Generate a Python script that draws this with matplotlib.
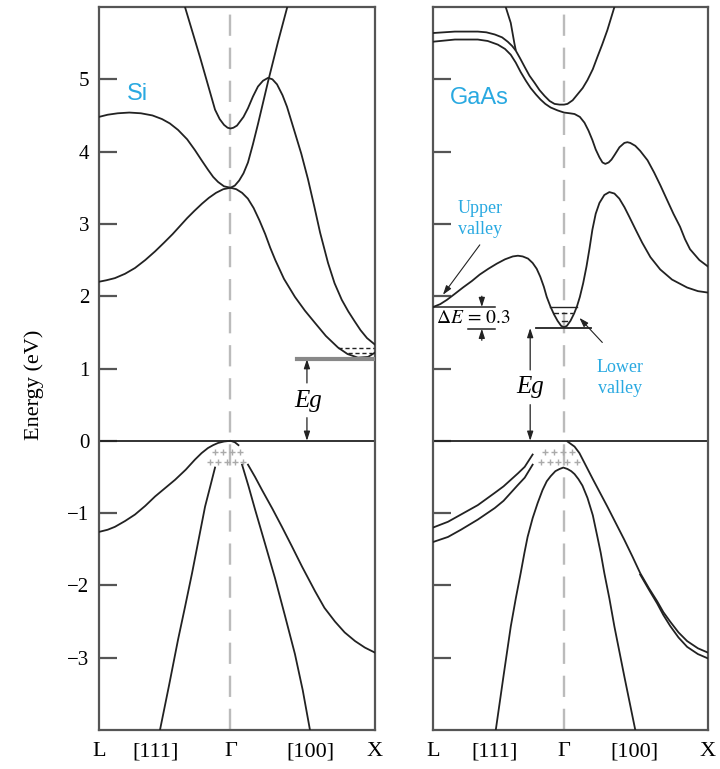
import numpy as np
import matplotlib.pyplot as plt

plt.rcParams['font.family'] = ['Liberation Serif', 'DejaVu Serif']
plt.rcParams['mathtext.fontset'] = 'stix'

# wave vector axis: L = -0.91, Gamma = 0, X = 1
sym_labels = ['L', '[111]', 'Γ', '[100]', 'X']
si_sym_k = [-0.91, -0.516, 0.0, 0.55, 1.0]
gaas_sym_k = [-0.91, -0.481, 0.0, 0.488, 1.0]
energy_ticks = [-3, -2, -1, 0, 1, 2, 3, 4, 5]

# --- Si bands (k, eV) ---
si_cb1_k = [-0.91, -0.86, -0.80, -0.73, -0.661, -0.59, -0.522, -0.46, -0.40, -0.35, -0.30, -0.25, -0.197, -0.15, -0.10, -0.05, 0.0,
            0.04, 0.08, 0.12, 0.16, 0.20, 0.24, 0.275, 0.31, 0.37, 0.446, 0.515, 0.585, 0.66, 0.744, 0.81, 0.882, 0.952, 1.0]
si_cb1_e = [2.20, 2.22, 2.25, 2.31, 2.39, 2.50, 2.62, 2.74, 2.86, 2.97, 3.08, 3.18, 3.28, 3.36, 3.43, 3.48, 3.50,
            3.48, 3.43, 3.35, 3.22, 3.05, 2.86, 2.67, 2.50, 2.24, 1.99, 1.80, 1.63, 1.45, 1.29, 1.20, 1.15, 1.16, 1.22]
si_cb2_k = [-0.91, -0.85, -0.78, -0.70, -0.62, -0.54, -0.474, -0.42, -0.363, -0.30, -0.246, -0.20, -0.156, -0.12, -0.086, -0.045, 0.0,
            0.03, 0.06, 0.09, 0.121, 0.155, 0.19, 0.26, 0.329, 0.393]
si_cb2_e = [4.48, 4.51, 4.53, 4.54, 4.53, 4.50, 4.45, 4.39, 4.30, 4.17, 4.02, 3.88, 3.75, 3.65, 3.58, 3.52, 3.50,
            3.53, 3.60, 3.70, 3.85, 4.10, 4.38, 4.97, 5.52, 6.00]
si_cb3_k = [-0.315, -0.21, -0.107, -0.075, -0.045, -0.02, 0.0, 0.02, 0.045, 0.09, 0.121, 0.155, 0.19, 0.225, 0.26, 0.29, 0.322, 0.36,
            0.391, 0.446, 0.49, 0.536, 0.58, 0.62, 0.675, 0.72, 0.77, 0.815, 0.86, 0.90, 0.945, 1.0]
si_cb3_e = [6.00, 5.30, 4.58, 4.45, 4.37, 4.33, 4.32, 4.33, 4.36, 4.48, 4.60, 4.76, 4.90, 4.98, 5.02, 5.00, 4.93, 4.78,
            4.62, 4.26, 3.97, 3.62, 3.24, 2.88, 2.46, 2.18, 1.95, 1.79, 1.65, 1.53, 1.42, 1.33]
si_vb1a_k = [-0.91, -0.85, -0.80, -0.73, -0.661, -0.59, -0.522, -0.45, -0.384, -0.31, -0.246, -0.20, -0.156, -0.12, -0.086, -0.045, 0.0, 0.03, 0.055]
si_vb1a_e = [-1.26, -1.23, -1.19, -1.11, -1.02, -0.90, -0.77, -0.65, -0.54, -0.40, -0.26, -0.17, -0.10, -0.06, -0.03, -0.01, 0.0, -0.02, -0.06]
si_vb1b_k = [0.121, 0.17, 0.218, 0.29, 0.356, 0.425, 0.495, 0.585, 0.65, 0.723, 0.79, 0.862, 0.93, 1.0]
si_vb1b_e = [-0.33, -0.50, -0.68, -0.94, -1.19, -1.46, -1.74, -2.08, -2.31, -2.50, -2.65, -2.77, -2.86, -2.93]
si_vb2_k = [-0.107, -0.14, -0.176, -0.22, -0.266, -0.315, -0.363, -0.425, -0.488]
si_vb2_e = [-0.37, -0.63, -0.91, -1.36, -1.83, -2.30, -2.75, -3.38, -4.0]
si_vb3_k = [0.08, 0.125, 0.17, 0.24, 0.308, 0.377, 0.446, 0.50, 0.55]
si_vb3_e = [-0.33, -0.63, -0.95, -1.43, -1.90, -2.42, -2.95, -3.45, -4.0]
si_gap = 1.13
si_valley_e = [1.29, 1.22]
si_valley_k = [(0.744, 0.99), (0.813, 0.98)]
si_holes_k = [-0.107, -0.052, 0.010, 0.066, -0.142, -0.086, -0.024, 0.031, 0.087]
si_holes_e = [-0.15] * 4 + [-0.29] * 5

# --- GaAs bands (k, eV) ---
gaas_cb1_k = [-0.91, -0.86, -0.813, -0.76, -0.702, -0.64, -0.585, -0.525, -0.467, -0.41, -0.356, -0.32, -0.287, -0.25, -0.218, -0.19,
              -0.165, -0.14, -0.12, -0.095, -0.07, -0.045, -0.02, 0.0, 0.02, 0.045, 0.07, 0.09, 0.11, 0.133, 0.156, 0.177, 0.197,
              0.22, 0.246, 0.28, 0.315, 0.35, 0.384, 0.42, 0.453, 0.50, 0.543, 0.60, 0.668, 0.75, 0.855, 0.93, 1.0]
gaas_cb1_e = [1.85, 1.89, 1.95, 2.03, 2.12, 2.21, 2.30, 2.38, 2.45, 2.51, 2.55, 2.56, 2.55, 2.52, 2.46, 2.38,
              2.27, 2.13, 1.99, 1.86, 1.75, 1.66, 1.59, 1.57, 1.59, 1.66, 1.76, 1.86, 1.99, 2.18, 2.41, 2.66, 2.92,
              3.14, 3.29, 3.40, 3.44, 3.42, 3.35, 3.23, 3.10, 2.91, 2.74, 2.54, 2.37, 2.23, 2.12, 2.07, 2.05]
gaas_cb2_k = [-0.91, -0.758, -0.599, -0.53, -0.46, -0.41, -0.37, -0.335, -0.301, -0.265, -0.232, -0.195, -0.163, -0.13, -0.093,
              -0.045, 0.0, 0.04, 0.073, 0.11, 0.142, 0.17, 0.197, 0.22, 0.246, 0.267, 0.287, 0.31, 0.33, 0.35, 0.385, 0.419,
              0.44, 0.46, 0.495, 0.529, 0.58, 0.626, 0.67, 0.716, 0.76, 0.806, 0.84, 0.875, 0.94, 1.0]
gaas_cb2_e = [5.52, 5.55, 5.55, 5.53, 5.48, 5.42, 5.34, 5.23, 5.10, 4.98, 4.88, 4.79, 4.72, 4.66, 4.61,
              4.57, 4.54, 4.53, 4.52, 4.48, 4.40, 4.29, 4.16, 4.03, 3.92, 3.85, 3.83, 3.85, 3.89, 3.95, 4.06, 4.12,
              4.13, 4.12, 4.08, 4.01, 3.88, 3.71, 3.53, 3.33, 3.14, 2.96, 2.79, 2.65, 2.50, 2.41]
gaas_cb3_k = [-0.91, -0.758, -0.599, -0.54, -0.481, -0.43, -0.391, -0.36, -0.336, -0.305, -0.273, -0.24, -0.204, -0.17, -0.135,
              -0.10, -0.066, -0.031, 0.0, 0.024, 0.06, 0.093, 0.13, 0.163, 0.20, 0.232, 0.265, 0.301, 0.35]
gaas_cb3_e = [5.64, 5.66, 5.66, 5.65, 5.62, 5.58, 5.52, 5.46, 5.40, 5.29, 5.17, 5.05, 4.95, 4.85, 4.77,
              4.70, 4.66, 4.65, 4.65, 4.66, 4.71, 4.79, 4.88, 4.99, 5.14, 5.31, 5.48, 5.68, 6.00]
gaas_cb4_k = [-0.405, -0.37, -0.345, -0.336]
gaas_cb4_e = [6.00, 5.78, 5.50, 5.41]
gaas_vb1_k = [-0.91, -0.806, -0.716, -0.599, -0.481, -0.42, -0.37, -0.32, -0.273, -0.218]
gaas_vb1_e = [-1.20, -1.12, -1.02, -0.89, -0.72, -0.63, -0.54, -0.45, -0.36, -0.19]
gaas_vb2_e = [-1.40, -1.33, -1.23, -1.09, -0.93, -0.83, -0.72, -0.61, -0.51, -0.33]
gaas_vb3_k = [0.024, 0.073, 0.107, 0.20, 0.301, 0.36, 0.419, 0.475, 0.529, 0.59, 0.647, 0.69, 0.737, 0.795, 0.855, 0.93, 1.0]
gaas_vb3_e = [-0.01, -0.08, -0.17, -0.53, -0.91, -1.14, -1.37, -1.60, -1.83, -2.04, -2.22, -2.37, -2.50, -2.65, -2.77, -2.87, -2.93]
gaas_vb4_k = [0.529, 0.59, 0.647, 0.69, 0.737, 0.795, 0.855, 0.93, 1.0]
gaas_vb4_e = [-1.85, -2.06, -2.25, -2.41, -2.56, -2.72, -2.85, -2.95, -3.01]
gaas_so_k = [-0.474, -0.42, -0.37, -0.335, -0.301, -0.275, -0.253, -0.218, -0.183, -0.149, -0.12, -0.093, -0.06, -0.031, -0.005,
             0.024, 0.05, 0.073, 0.10, 0.128, 0.163, 0.20, 0.232, 0.255, 0.28, 0.315, 0.35, 0.42, 0.495]
gaas_so_e = [-4.0, -3.25, -2.57, -2.18, -1.83, -1.55, -1.33, -1.07, -0.86, -0.68, -0.56, -0.49, -0.42, -0.39, -0.37,
             -0.39, -0.42, -0.46, -0.53, -0.62, -0.79, -1.03, -1.33, -1.55, -1.83, -2.18, -2.57, -3.27, -4.0]
gaas_gap = 1.56
gaas_upper_valley = 1.85
gaas_valley_e = [1.85, 1.77, 1.66]
gaas_valley_k = [(-0.10, 0.087), (-0.08, 0.065), (-0.015, 0.02)]
gaas_holes_k = [-0.135, -0.073, -0.010, 0.052, -0.163, -0.10, -0.045, 0.024, 0.087]
gaas_holes_e = [-0.15] * 4 + [-0.29] * 5

CYAN = '#29a9e1'
FRAME = '#555555'
LINE = '#222222'

fig = plt.figure(figsize=(7.2, 7.69), dpi=100)
ax1 = fig.add_axes([99 / 720, 1 - 730 / 769, 276 / 720, 723 / 769])
ax2 = fig.add_axes([433 / 720, 1 - 730 / 769, 275 / 720, 723 / 769])


def setup(ax, sym_k, show_labels):
    ax.set_xlim(-0.91, 1.0)
    ax.set_ylim(-4.0, 6.0)
    for s in ax.spines.values():
        s.set_color(FRAME)
        s.set_linewidth(1.6)
    ax.set_yticks(energy_ticks)
    ax.tick_params(axis='y', direction='in', length=13, width=1.6, color=FRAME,
                   labelsize=15, pad=7, labelleft=show_labels)
    ax.set_xticks(sym_k)
    ax.set_xticklabels(sym_labels)
    ax.tick_params(axis='x', length=0, labelsize=16, pad=9)
    # Gamma line and valence band edge
    ax.axvline(0, color='#bbbbbb', lw=1.7, dashes=(9, 5), zorder=1)
    ax.axhline(0, color=LINE, lw=1.3, zorder=2)


def band(ax, k, e):
    ax.plot(k, e, color=LINE, lw=1.3, zorder=3, solid_joinstyle='round')


def arrow(ax, start, end, lw=0.9):
    ax.annotate('', xy=end, xytext=start,
                arrowprops=dict(arrowstyle='-|>,head_length=0.55,head_width=0.18',
                                color=LINE, lw=lw, shrinkA=0, shrinkB=0))


setup(ax1, si_sym_k, True)
setup(ax2, gaas_sym_k, False)
ax1.set_ylabel('Energy (eV)', fontsize=16)
ax1.yaxis.set_label_coords(-0.20, 0.477)

# ---- Si ----
for k, e in [(si_cb1_k, si_cb1_e), (si_cb2_k, si_cb2_e), (si_cb3_k, si_cb3_e),
             (si_vb1a_k, si_vb1a_e), (si_vb1b_k, si_vb1b_e),
             (si_vb2_k, si_vb2_e), (si_vb3_k, si_vb3_e)]:
    band(ax1, k, e)
ax1.plot([0.46, 1.0], [si_gap, si_gap], color='#888888', lw=3, zorder=4)
for e, (k0, k1) in zip(si_valley_e, si_valley_k):
    ax1.plot([k0, k1], [e, e], color=LINE, lw=1, dashes=(3, 2), zorder=3)
ax1.plot(si_holes_k, si_holes_e, '+', color='#aaaaaa', ms=5, mew=1, zorder=4)
arrow(ax1, (0.529, 0.80), (0.529, si_gap))
arrow(ax1, (0.529, 0.32), (0.529, 0.0))
ax1.text(0.536, 0.55, 'Eg', fontsize=18, style='italic', ha='center', va='center')
ax1.text(-0.647, 4.79, 'Si', fontsize=17, color=CYAN, family='Liberation Sans',
         ha='center', va='center')

# ---- GaAs ----
for k, e in [(gaas_cb1_k, gaas_cb1_e), (gaas_cb2_k, gaas_cb2_e), (gaas_cb3_k, gaas_cb3_e),
             (gaas_cb4_k, gaas_cb4_e), (gaas_vb1_k, gaas_vb1_e), (gaas_vb1_k, gaas_vb2_e),
             (gaas_vb3_k, gaas_vb3_e), (gaas_vb4_k, gaas_vb4_e), (gaas_so_k, gaas_so_e)]:
    band(ax2, k, e)
ax2.plot([-0.91, -0.481], [gaas_upper_valley] * 2, color=LINE, lw=1.1, zorder=3)
ax2.plot([-0.668, -0.481], [gaas_gap - 0.01] * 2, color=LINE, lw=1.1, zorder=3)
ax2.plot([-0.197, 0.184], [gaas_gap, gaas_gap], color=LINE, lw=1.3, zorder=3)
ax2.plot(list(gaas_valley_k[0]), [gaas_valley_e[0]] * 2, color=LINE, lw=1, zorder=3)
ax2.plot(list(gaas_valley_k[1]), [gaas_valley_e[1]] * 2, color=LINE, lw=1, dashes=(4, 2), zorder=3)
ax2.plot(list(gaas_valley_k[2]), [gaas_valley_e[2]] * 2, color=LINE, lw=1, zorder=3)
ax2.plot(gaas_holes_k, gaas_holes_e, '+', color='#aaaaaa', ms=5, mew=1, zorder=4)
arrow(ax2, (-0.571, 2.0), (-0.571, gaas_upper_valley))
arrow(ax2, (-0.571, 1.39), (-0.571, gaas_gap - 0.01))
ax2.text(-0.89, 1.69, r'$\Delta E\,=\,0.3$', fontsize=14, ha='left', va='center')
arrow(ax2, (-0.235, 0.98), (-0.235, gaas_gap))
arrow(ax2, (-0.235, 0.50), (-0.235, 0.0))
ax2.text(-0.232, 0.75, 'Eg', fontsize=18, style='italic', ha='center', va='center')
ax2.text(-0.585, 4.74, 'GaAs', fontsize=17, color=CYAN, family='Liberation Sans',
         ha='center', va='center')
ax2.text(-0.585, 3.07, 'Upper\nvalley', fontsize=13, color=CYAN, ha='center',
         va='center', linespacing=1.3)
arrow(ax2, (-0.585, 2.71), (-0.841, 2.02), lw=0.8)
ax2.text(0.391, 0.87, 'Lower\nvalley', fontsize=13, color=CYAN, ha='center',
         va='center', linespacing=1.3)
arrow(ax2, (0.266, 1.36), (0.107, 1.70), lw=0.8)

fig.savefig('out.png', dpi=100)
